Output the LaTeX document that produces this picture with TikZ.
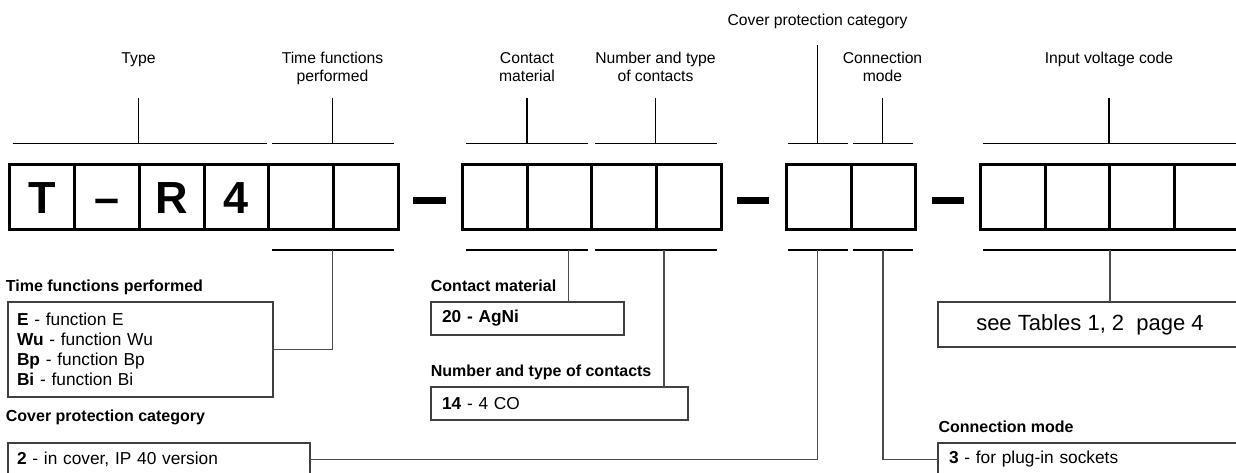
\documentclass[tikz,border=0pt]{standalone}
\usepackage{fontspec}
\setmainfont{Liberation Sans}
\usetikzlibrary{positioning}

\begin{document}
\begin{tikzpicture}[x=1pt,y=-1pt,
  cell/.style={draw,line width=3pt,outer sep=0pt,inner sep=0pt,minimum width=64.8pt,minimum height=65pt,
    text height=32.2pt,text depth=0pt,font=\fontsize{45}{45}\selectfont\bfseries},
  toplabel/.style={font=\fontsize{15.7}{18.2}\selectfont,align=center,anchor=base,inner sep=0pt},
  head/.style={font=\fontsize{16}{18}\selectfont\bfseries,anchor=base west,inner sep=0pt},
  info/.style={draw=black!75,line width=1.1pt,outer sep=0pt,anchor=north west,inner ysep=0pt,
    align=left,font=\fontsize{17.3}{20}\selectfont},
  brace/.style={line width=1.7pt},
  foot/.style={line width=2pt},
  link/.style={draw=black!70,line width=1.1pt},
  sep/.style={line width=7.3pt}]
\useasboundingbox (0,0) rectangle (1236,472);

\foreach \t [count=\i] in {T,\textendash,R,4,{},{}}
  \node[cell] (a\i) at ({9.7+64.8*(\i-0.5)},197.2) {\t};
\foreach \i in {1,...,4}
  \node[cell] (b\i) at ({462.3+64.8*(\i-0.5)},197.2) {};
\foreach \i in {1,2}
  \node[cell] (c\i) at ({786.3+64.8*(\i-0.5)},197.2) {};
\foreach \i in {1,...,4}
  \node[cell] (d\i) at ({980.3+64.8*(\i-0.5)},197.2) {};

\draw[sep] (413,200.3) -- (446,200.3);
\draw[sep] (737,200.3) -- (769,200.3);
\draw[sep] (932,200.3) -- (964,200.3);

\node[toplabel] (type) at (138.5,63.3) {Type};
\node[toplabel] (time) at (332.5,81.5) {Time functions\\performed};
\node[toplabel] (mat) at (527,81.5) {Contact\\material};
\node[toplabel] (num) at (655.5,81.5) {Number and type\\of contacts};
\node[toplabel] (cover) at (817.5,25) {Cover protection category};
\node[toplabel] (conn) at (882.5,81.5) {Connection\\mode};
\node[toplabel] (volt) at (1109,63.3) {Input voltage code};

\draw[brace] (12.5,143.5) -- (266.5,143.5) (138.5,98) -- (138.5,143.5);
\draw[brace] (272,143.5) -- (394,143.5) (332.5,98) -- (332.5,143.5);
\draw[brace] (466,143.5) -- (588,143.5) (527,98) -- (527,143.5);
\draw[brace] (595,143.5) -- (717,143.5) (655.5,98) -- (655.5,143.5);
\draw[brace] (788,143.5) -- (848,143.5) (817.5,45) -- (817.5,143.5);
\draw[brace] (853,143.5) -- (913,143.5) (882.5,98) -- (882.5,143.5);
\draw[brace] (983,143.5) -- (1245,143.5) (1109,98) -- (1109,143.5);

\draw[foot] (272,250.3) -- (394,250.3);
\draw[foot] (466,250.3) -- (588,250.3);
\draw[foot] (595,250.3) -- (717,250.3);
\draw[foot] (788,250.3) -- (848,250.3);
\draw[foot] (853,250.3) -- (913,250.3);
\draw[foot] (983,250.3) -- (1245,250.3);

\coordinate (tfb) at (332.5,250.3);
\coordinate (cmb) at (568.3,250.3);
\coordinate (ntb) at (664,250.3);
\coordinate (cvb) at (817.5,250.3);
\coordinate (cnb) at (883,250.3);
\coordinate (ivb) at (1110,250.3);

\node[head] (tfh) at (5.7,291.5) {Time functions performed};
\node[info,minimum width=265pt,minimum height=95pt,text width=247pt,inner xsep=9pt] (tf) at (8,302)
  {\textbf{E} - function E\\ \textbf{Wu} - function Wu\\ \textbf{Bp} - function Bp\\ \textbf{Bi} - function Bi};
\node[head] (cvh) at (5.7,421.5) {Cover protection category};
\node[info,minimum width=302pt,minimum height=33pt,text width=284pt,inner xsep=9pt] (cv) at (8,443)
  {\textbf{2} - in cover, IP 40 version};

\node[head] (cmh) at (430.7,291) {Contact material};
\node[info,minimum width=193pt,minimum height=33pt,text width=171pt,inner xsep=11pt] (cm) at (431,302)
  {\textbf{20 - AgNi}};
\node[head] (nth) at (430.7,376) {Number and type of contacts};
\node[info,minimum width=257pt,minimum height=33pt,text width=235pt,inner xsep=11pt] (nt) at (431,387)
  {\textbf{14} - 4 CO};

\node[info,minimum width=304pt,minimum height=45pt,inner xsep=0pt,font=\fontsize{22}{24}\selectfont] (iv) at (938,302)
  {see Tables 1, 2\ \ page 4};
\node[head] (cnh) at (938.3,432.5) {Connection mode};
\node[info,minimum width=322pt,minimum height=33pt,text width=300pt,inner xsep=11pt] (cn) at (938,443)
  {\textbf{3} - for plug-in sockets};

\draw[link] (tfb) |- (tf.east);
\draw[link] (cmb) -- (cmb |- cm.north);
\draw[link] (ntb) -- (ntb |- nt.north);
\draw[link] (cvb) |- (cv.east);
\draw[link] (cnb) |- (cn.west);
\draw[link] (ivb) -- (ivb |- iv.north);
\end{tikzpicture}
\end{document}
